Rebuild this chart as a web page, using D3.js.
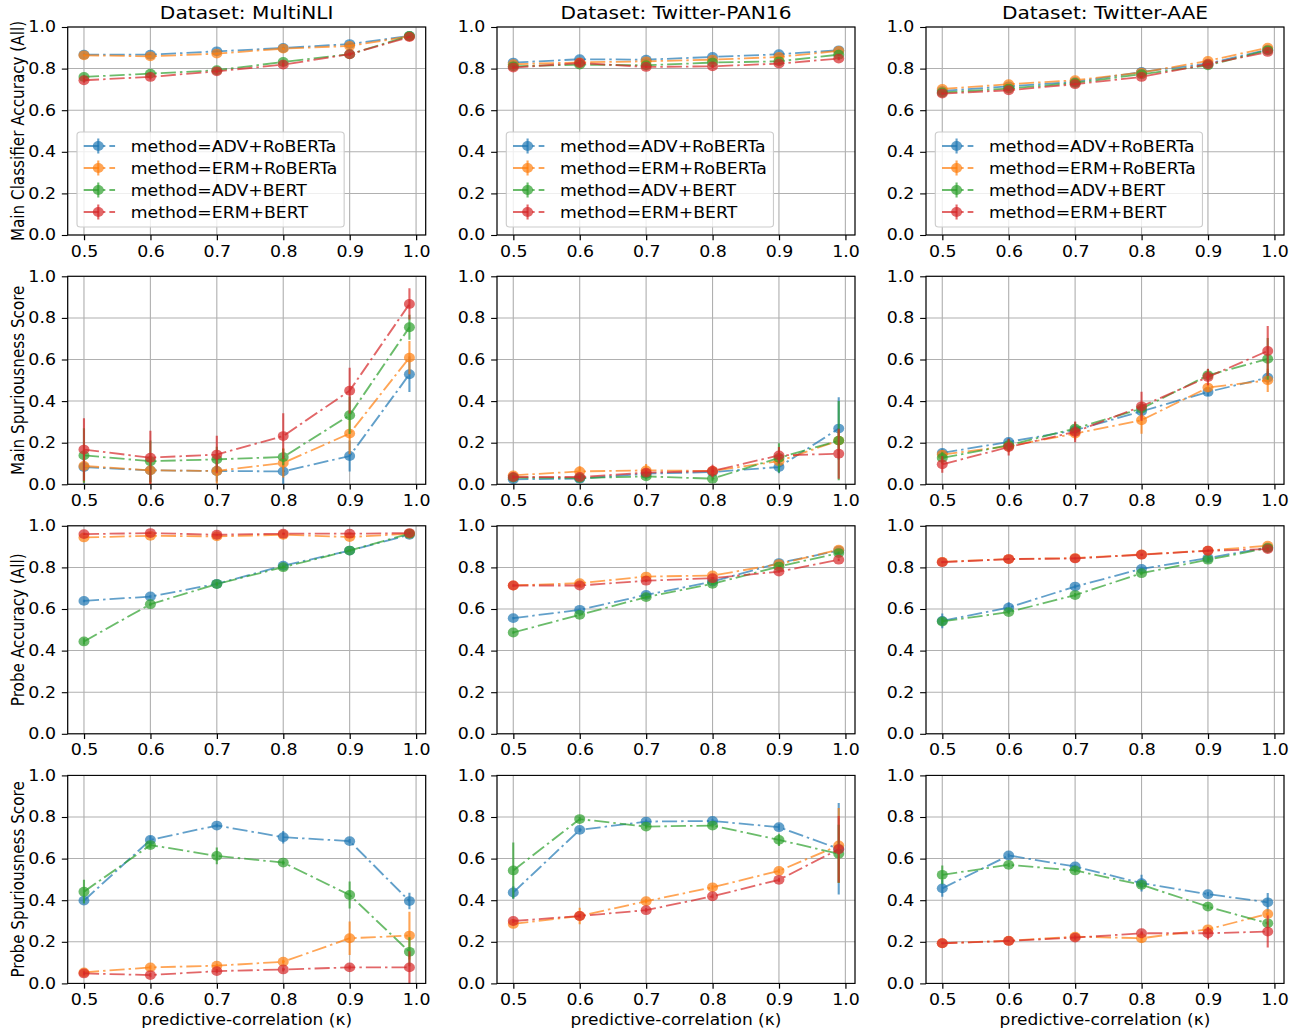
<!DOCTYPE html>
<html>
<head>
<meta charset="utf-8">
<script src="https://cdn.jsdelivr.net/npm/d3@7"></script>
<style>
  html, body { margin: 0; padding: 0; background: #ffffff; }
  svg { display: block; }
  text { font-family: "DejaVu Sans", sans-serif; fill: #000; }
</style>
</head>
<body>
<svg id="chart" width="1296" height="1029"></svg>
<script>
// ---------------- data ----------------
const kappa = [0.5, 0.6, 0.7, 0.8, 0.9, 0.99];
const xTicks = [0.5, 0.6, 0.7, 0.8, 0.9, 1.0];
const yTicks = [0.0, 0.2, 0.4, 0.6, 0.8, 1.0];
const methods = ["ADV+RoBERTa", "ERM+RoBERTa", "ADV+BERT", "ERM+BERT"];
const colors = ["#1f77b4", "#ff7f0e", "#2ca02c", "#d62728"];
const datasets = ["MultiNLI", "Twitter-PAN16", "Twitter-AAE"];
const metrics = ["Main Classifier Accuracy (All)", "Main Spuriousness Score",
                 "Probe Accuracy (All)", "Probe Spuriousness Score"];
const xLabel = "predictive-correlation (\u03BA)";

// rows of each array: ADV+RoBERTa, ERM+RoBERTa, ADV+BERT, ERM+BERT
const mainAccMultiNLI = [
  [0.867, 0.867, 0.883, 0.899, 0.918, 0.957],
  [0.864, 0.859, 0.872, 0.896, 0.909, 0.955],
  [0.760, 0.776, 0.792, 0.832, 0.869, 0.957],
  [0.744, 0.760, 0.787, 0.819, 0.869, 0.952]];
const mainAccMultiNLIErr = [
  [0.005, 0.005, 0.006, 0.005, 0.006, 0.004],
  [0.005, 0.005, 0.006, 0.005, 0.006, 0.004],
  [0.010, 0.010, 0.008, 0.010, 0.008, 0.004],
  [0.012, 0.012, 0.010, 0.010, 0.008, 0.005]];
const mainAccPAN16 = [
  [0.829, 0.845, 0.843, 0.856, 0.869, 0.888],
  [0.821, 0.830, 0.835, 0.843, 0.856, 0.885],
  [0.811, 0.819, 0.816, 0.829, 0.835, 0.867],
  [0.805, 0.827, 0.808, 0.811, 0.824, 0.848]];
const mainAccPAN16Err = [
  [0.006, 0.008, 0.006, 0.006, 0.006, 0.006],
  [0.006, 0.008, 0.006, 0.006, 0.006, 0.006],
  [0.006, 0.008, 0.006, 0.006, 0.006, 0.006],
  [0.008, 0.015, 0.006, 0.008, 0.008, 0.008]];
const mainAccAAE = [
  [0.693, 0.715, 0.736, 0.784, 0.824, 0.891],
  [0.702, 0.725, 0.744, 0.781, 0.837, 0.901],
  [0.685, 0.704, 0.731, 0.773, 0.816, 0.888],
  [0.680, 0.696, 0.725, 0.760, 0.821, 0.880]];
const mainAccAAEErr = [
  [0.005, 0.005, 0.005, 0.005, 0.005, 0.005],
  [0.005, 0.005, 0.005, 0.005, 0.005, 0.005],
  [0.005, 0.005, 0.005, 0.005, 0.005, 0.005],
  [0.005, 0.005, 0.005, 0.005, 0.005, 0.005]];

const mainSpurMultiNLI = [
  [0.083, 0.067, 0.064, 0.062, 0.136, 0.529],
  [0.088, 0.067, 0.064, 0.103, 0.244, 0.609],
  [0.139, 0.111, 0.120, 0.131, 0.332, 0.755],
  [0.167, 0.128, 0.143, 0.232, 0.450, 0.867]];
const mainSpurMultiNLIErr = [
  [0.080, 0.060, 0.050, 0.060, 0.075, 0.085],
  [0.080, 0.070, 0.060, 0.070, 0.100, 0.080],
  [0.130, 0.100, 0.060, 0.040, 0.090, 0.060],
  [0.150, 0.130, 0.090, 0.110, 0.110, 0.075]];
const mainSpurPAN16 = [
  [0.024, 0.027, 0.051, 0.059, 0.083, 0.268],
  [0.043, 0.062, 0.067, 0.064, 0.111, 0.210],
  [0.032, 0.030, 0.038, 0.027, 0.127, 0.210],
  [0.035, 0.035, 0.056, 0.064, 0.139, 0.147]];
const mainSpurPAN16Err = [
  [0.010, 0.010, 0.015, 0.015, 0.030, 0.150],
  [0.015, 0.025, 0.030, 0.015, 0.020, 0.050],
  [0.010, 0.010, 0.015, 0.010, 0.070, 0.190],
  [0.010, 0.010, 0.015, 0.030, 0.040, 0.120]];
const mainSpurAAE = [
  [0.151, 0.204, 0.260, 0.351, 0.444, 0.513],
  [0.143, 0.183, 0.244, 0.308, 0.465, 0.500],
  [0.127, 0.188, 0.268, 0.364, 0.524, 0.603],
  [0.096, 0.179, 0.252, 0.375, 0.516, 0.641]];
const mainSpurAAEErr = [
  [0.020, 0.020, 0.030, 0.030, 0.020, 0.030],
  [0.020, 0.030, 0.030, 0.065, 0.020, 0.056],
  [0.030, 0.030, 0.030, 0.030, 0.030, 0.100],
  [0.040, 0.040, 0.050, 0.070, 0.040, 0.120]];

const probeAccMultiNLI = [
  [0.639, 0.660, 0.721, 0.808, 0.881, 0.957],
  [0.944, 0.952, 0.949, 0.957, 0.946, 0.962],
  [0.444, 0.623, 0.720, 0.801, 0.881, 0.962],
  [0.960, 0.965, 0.957, 0.962, 0.962, 0.965]];
const probeAccMultiNLIErr = [
  [0.006, 0.006, 0.006, 0.006, 0.006, 0.004],
  [0.004, 0.004, 0.004, 0.004, 0.004, 0.004],
  [0.015, 0.010, 0.010, 0.008, 0.006, 0.004],
  [0.004, 0.004, 0.004, 0.004, 0.004, 0.004]];
const probeAccPAN16 = [
  [0.556, 0.596, 0.668, 0.732, 0.821, 0.881],
  [0.713, 0.724, 0.756, 0.761, 0.816, 0.885],
  [0.487, 0.572, 0.657, 0.721, 0.804, 0.869],
  [0.713, 0.713, 0.736, 0.748, 0.780, 0.837]];
const probeAccPAN16Err = [
  [0.006, 0.006, 0.006, 0.006, 0.006, 0.006],
  [0.006, 0.006, 0.006, 0.006, 0.006, 0.006],
  [0.006, 0.006, 0.006, 0.006, 0.006, 0.006],
  [0.006, 0.006, 0.006, 0.006, 0.006, 0.006]];
const probeAccAAE = [
  [0.543, 0.607, 0.708, 0.793, 0.845, 0.896],
  [0.827, 0.840, 0.845, 0.862, 0.881, 0.904],
  [0.540, 0.585, 0.667, 0.772, 0.837, 0.893],
  [0.825, 0.840, 0.843, 0.861, 0.880, 0.888]];
const probeAccAAEErr = [
  [0.035, 0.025, 0.010, 0.010, 0.010, 0.005],
  [0.005, 0.005, 0.005, 0.005, 0.005, 0.005],
  [0.015, 0.010, 0.010, 0.010, 0.010, 0.005],
  [0.005, 0.005, 0.005, 0.005, 0.005, 0.005]];

const probeSpurMultiNLI = [
  [0.398, 0.690, 0.759, 0.703, 0.684, 0.396],
  [0.053, 0.077, 0.085, 0.104, 0.217, 0.230],
  [0.441, 0.665, 0.613, 0.581, 0.425, 0.152],
  [0.048, 0.040, 0.059, 0.067, 0.077, 0.077]];
const probeSpurMultiNLIErr = [
  [0.010, 0.020, 0.010, 0.030, 0.010, 0.040],
  [0.010, 0.010, 0.010, 0.010, 0.080, 0.115],
  [0.057, 0.015, 0.040, 0.010, 0.065, 0.070],
  [0.010, 0.010, 0.010, 0.010, 0.010, 0.077]];
const probeSpurPAN16 = [
  [0.437, 0.738, 0.778, 0.781, 0.751, 0.647],
  [0.286, 0.324, 0.395, 0.462, 0.541, 0.663],
  [0.543, 0.790, 0.754, 0.759, 0.690, 0.623],
  [0.300, 0.324, 0.352, 0.419, 0.498, 0.645]];
const probeSpurPAN16Err = [
  [0.030, 0.010, 0.010, 0.010, 0.015, 0.220],
  [0.010, 0.040, 0.010, 0.010, 0.010, 0.180],
  [0.135, 0.010, 0.010, 0.010, 0.030, 0.140],
  [0.010, 0.010, 0.010, 0.010, 0.010, 0.160]];
const probeSpurAAE = [
  [0.457, 0.615, 0.562, 0.482, 0.429, 0.390],
  [0.193, 0.205, 0.225, 0.217, 0.260, 0.334],
  [0.522, 0.570, 0.543, 0.474, 0.369, 0.289],
  [0.193, 0.204, 0.220, 0.241, 0.241, 0.249]];
const probeSpurAAEErr = [
  [0.040, 0.010, 0.010, 0.040, 0.010, 0.045],
  [0.005, 0.005, 0.010, 0.020, 0.010, 0.010],
  [0.045, 0.010, 0.010, 0.010, 0.010, 0.010],
  [0.005, 0.005, 0.010, 0.010, 0.030, 0.077]];

const panelValues = [
  [mainAccMultiNLI, mainAccPAN16, mainAccAAE],
  [mainSpurMultiNLI, mainSpurPAN16, mainSpurAAE],
  [probeAccMultiNLI, probeAccPAN16, probeAccAAE],
  [probeSpurMultiNLI, probeSpurPAN16, probeSpurAAE]];
const panelErrors = [
  [mainAccMultiNLIErr, mainAccPAN16Err, mainAccAAEErr],
  [mainSpurMultiNLIErr, mainSpurPAN16Err, mainSpurAAEErr],
  [probeAccMultiNLIErr, probeAccPAN16Err, probeAccAAEErr],
  [probeSpurMultiNLIErr, probeSpurPAN16Err, probeSpurAAEErr]];

// ---------------- layout ----------------
const SX = 1.12;                       // horizontal stretch of the original figure
const colLeft = [67.7, 497, 926].map(v => v / SX);
const axW = 358 / SX;
const rowTop = [27, 276.3, 525.8, 775.4];
const axH = 208;
const xDomain = [0.4755, 1.0145];
const TICK_FS = 15.5, LABEL_FS = 15.2, TITLE_FS = 18, LEGEND_FS = 15.4;
const ALPHA = 0.7;
const LW = 1.8;
const DASH = "13.5,3.6,2.2,3.6";

const svg = d3.select("#chart");
const defs = svg.append("defs");
const root = svg.append("g").attr("transform", `scale(${SX},1)`);

panelValues.forEach((row, r) => row.forEach((vals, c) => {
  const errs = panelErrors[r][c];
  const L = colLeft[c], T = rowTop[r];
  const x = d3.scaleLinear().domain(xDomain).range([L, L + axW]);
  const y = d3.scaleLinear().domain([0, 1]).range([T + axH, T]);
  const g = root.append("g");

  const clipId = `clip-${r}-${c}`;
  defs.append("clipPath").attr("id", clipId)
    .append("rect").attr("x", L).attr("y", T).attr("width", axW).attr("height", axH);

  // grid
  g.append("g").selectAll("line").data(xTicks).join("line")
    .attr("x1", d => x(d)).attr("x2", d => x(d)).attr("y1", T).attr("y2", T + axH)
    .attr("stroke", "#b0b0b0").attr("stroke-width", 1.0);
  g.append("g").selectAll("line").data(yTicks).join("line")
    .attr("x1", L).attr("x2", L + axW).attr("y1", d => y(d)).attr("y2", d => y(d))
    .attr("stroke", "#b0b0b0").attr("stroke-width", 1.0);

  // data
  const dg = g.append("g").attr("clip-path", `url(#${clipId})`);
  const line = d3.line().x((d, i) => x(kappa[i])).y(d => y(d));
  vals.forEach((series, s) => {
    const sg = dg.append("g");
    sg.append("g").selectAll("line").data(series).join("line")
      .attr("x1", (d, i) => x(kappa[i])).attr("x2", (d, i) => x(kappa[i]))
      .attr("y1", (d, i) => y(d - errs[s][i])).attr("y2", (d, i) => y(d + errs[s][i]))
      .attr("stroke", colors[s]).attr("stroke-width", 1.9).attr("stroke-opacity", ALPHA);
    sg.append("path").datum(series).attr("d", line)
      .attr("fill", "none").attr("stroke", colors[s]).attr("stroke-width", LW)
      .attr("stroke-dasharray", DASH).attr("stroke-opacity", ALPHA);
    sg.append("g").selectAll("circle").data(series).join("circle")
      .attr("cx", (d, i) => x(kappa[i])).attr("cy", d => y(d)).attr("r", 4.9)
      .attr("fill", colors[s]).attr("fill-opacity", ALPHA);
  });

  // axes
  const ax = g.append("g").attr("transform", `translate(0,${T + axH})`)
    .call(d3.axisBottom(x).tickValues(xTicks).tickFormat(d3.format(".1f"))
      .tickSize(5.25).tickPadding(5.25));
  const ay = g.append("g").attr("transform", `translate(${L},0)`)
    .call(d3.axisLeft(y).tickValues(yTicks).tickFormat(d3.format(".1f"))
      .tickSize(5.25).tickPadding(5.25));
  [ax, ay].forEach(a => {
    a.select(".domain").remove();
    a.selectAll(".tick line").attr("stroke", "#000").attr("stroke-width", 1.1);
    a.selectAll(".tick text").attr("font-size", TICK_FS)
      .attr("font-family", "DejaVu Sans, sans-serif").attr("fill", "#000");
  });

  // spines
  g.append("rect").attr("x", L).attr("y", T).attr("width", axW).attr("height", axH)
    .attr("fill", "none").attr("stroke", "#000").attr("stroke-width", 1.1);

  // titles / labels
  if (r === 0) {
    g.append("text").attr("x", L + axW / 2).attr("y", T - 7.5)
      .attr("text-anchor", "middle").attr("font-size", TITLE_FS)
      .text("Dataset: " + datasets[c]);
  }
  if (c === 0) {
    g.append("text")
      .attr("transform", `translate(${24 / SX},${T + axH / 2}) rotate(-90)`)
      .attr("text-anchor", "middle").attr("font-size", LABEL_FS)
      .text(metrics[r]);
  }
  if (r === 3) {
    g.append("text").attr("x", L + axW / 2).attr("y", T + axH + 41.5)
      .attr("text-anchor", "middle").attr("font-size", LABEL_FS)
      .text(xLabel);
  }

  // legend
  if (r === 0) {
    const lg = g.append("g");
    const boxL = L + 8.3, boxB = T + axH - 8, boxH = 95, boxT = boxB - boxH;
    const box = lg.append("rect").attr("x", boxL).attr("y", boxT).attr("height", boxH)
      .attr("rx", 3).attr("ry", 3)
      .attr("fill", "#fff").attr("fill-opacity", 0.8)
      .attr("stroke", "#cccccc").attr("stroke-width", 1);
    let maxLen = 0;
    methods.forEach((m, i) => {
      const cy = boxT + 14 + i * 22;
      const hx0 = boxL + 6, hx1 = boxL + 34, hxm = boxL + 19;
      lg.append("line").attr("x1", hx0).attr("x2", hx1).attr("y1", cy).attr("y2", cy)
        .attr("stroke", colors[i]).attr("stroke-width", LW)
        .attr("stroke-dasharray", DASH).attr("stroke-opacity", ALPHA);
      lg.append("line").attr("x1", hxm).attr("x2", hxm).attr("y1", cy - 7.5).attr("y2", cy + 7.5)
        .attr("stroke", colors[i]).attr("stroke-width", 1.9).attr("stroke-opacity", ALPHA);
      lg.append("circle").attr("cx", hxm).attr("cy", cy).attr("r", 4.9)
        .attr("fill", colors[i]).attr("fill-opacity", ALPHA);
      const t = lg.append("text").attr("x", boxL + 48).attr("y", cy).attr("dy", "0.36em")
        .attr("font-size", LEGEND_FS).text("method=" + m);
      maxLen = Math.max(maxLen, t.node().getComputedTextLength());
    });
    box.attr("width", 48 + maxLen + 6);
  }
}));
</script>
</body>
</html>
